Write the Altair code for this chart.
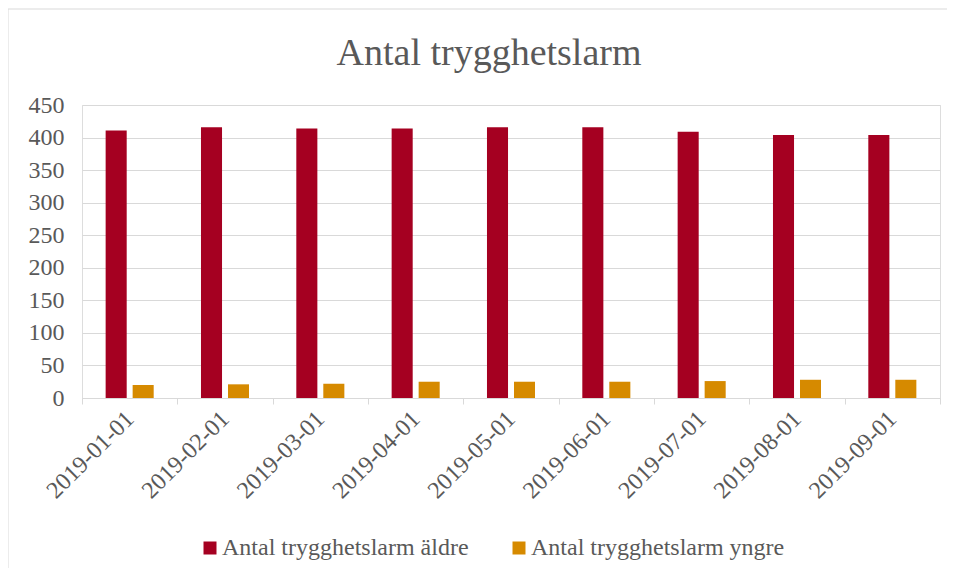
import altair as alt
import pandas as pd

months = ["2019-01-01", "2019-02-01", "2019-03-01", "2019-04-01", "2019-05-01",
          "2019-06-01", "2019-07-01", "2019-08-01", "2019-09-01"]
series_names = ["Antal trygghetslarm äldre", "Antal trygghetslarm yngre"]
aldre = [411, 416, 414, 414, 416, 416, 409, 404, 404]
yngre = [20, 21, 22, 25, 25, 25, 26, 28, 28]
colors = ["#A50021", "#D68A00"]
title_text = "Antal trygghetslarm"

rows = []
for m, a, y in zip(months, aldre, yngre):
    rows.append({"Månad": m, "Serie": series_names[0], "Antal": a})
    rows.append({"Månad": m, "Serie": series_names[1], "Antal": y})
df = pd.DataFrame(rows)

FONT = "Liberation Serif"
GREY = "#595959"
FS = 24

bars = alt.Chart(df).mark_bar().encode(
    x=alt.X("Månad:N", sort=months, title=None,
            scale=alt.Scale(paddingInner=0, paddingOuter=0),
            axis=alt.Axis(labelAngle=-45, labelAlign="right", labelBaseline="middle",
                          labelPadding=11, labelFontSize=FS, labelFont=FONT, labelColor=GREY,
                          tickBand="extent", tickSize=6, tickColor="#d9d9d9",
                          domainColor="#d9d9d9", grid=False)),
    xOffset=alt.XOffset("Serie:N", sort=series_names,
                        scale=alt.Scale(paddingInner=0.22, paddingOuter=0.876)),
    y=alt.Y("Antal:Q", title=None,
            scale=alt.Scale(domain=[0, 450]),
            axis=alt.Axis(values=list(range(0, 451, 50)), labelFontSize=FS, labelFont=FONT,
                          labelColor=GREY, labelPadding=18, ticks=False, domain=False,
                          gridColor="#d9d9d9")),
    color=alt.Color("Serie:N", sort=series_names,
                    scale=alt.Scale(domain=series_names, range=colors),
                    legend=alt.Legend(title=None, orient="none", direction="horizontal",
                                      legendX=116, legendY=431,
                                      symbolType="square", symbolSize=169,
                                      symbolStrokeWidth=0, labelFontSize=FS,
                                      labelFont=FONT, labelColor=GREY,
                                      columnPadding=38, labelOffset=0, labelLimit=400)),
)

title = alt.Chart().mark_text(font=FONT, fontSize=38, color=GREY, align="center",
                              baseline="alphabetic").encode(
    text=alt.value(title_text), x=alt.value(407), y=alt.value(-40))

border_left = alt.Chart().mark_rule(color="#d9d9d9", strokeWidth=1).encode(
    x=alt.value(-74), y=alt.value(-96), y2=alt.value(480))
border_top = alt.Chart().mark_rule(color="#d9d9d9", strokeWidth=1).encode(
    x=alt.value(-74), x2=alt.value(880), y=alt.value(-96))

chart = alt.layer(border_left, border_top, title, bars).properties(
    width=858,
    height=293,
    autosize=alt.AutoSizeParams(type="none"),
    padding={"left": 74, "top": 97, "right": 7, "bottom": 170},
).configure_view(stroke=None).configure(background="white")

chart.save("out.html", embed_options={"renderer": "svg", "actions": False})
